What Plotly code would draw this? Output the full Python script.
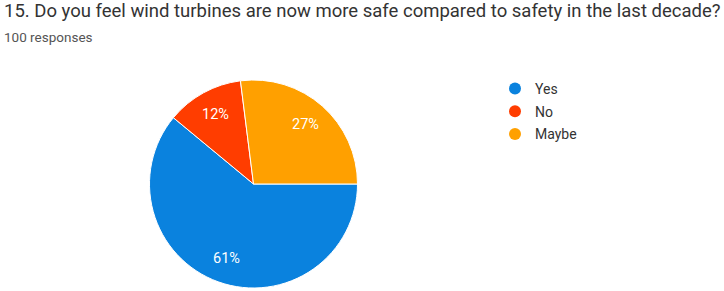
import math
import plotly.graph_objects as go

categories = ["Yes", "No", "Maybe"]
values = [61, 12, 27]
colors = ["#0a82de", "#ff3d00", "#ffa000"]
title_text = "15. Do you feel wind turbines are now more safe compared to safety in the last decade?"
subtitle_text = "100 responses"

W, H = 724, 291
# pie geometry (pixels)
cx, cy, R = 253.5, 184.0, 104.0
start_deg = 90.0
label_frac = 0.76

fig = go.Figure()
fig.add_trace(go.Pie(
    labels=categories, values=values, sort=False, direction="clockwise", rotation=start_deg,
    marker=dict(colors=colors, line=dict(color="white", width=1)),
    textinfo="none",
    showlegend=False, hoverinfo="label+percent",
    domain=dict(x=[(cx - R) / W, (cx + R) / W], y=[(H - cy - R) / H, (H - cy + R) / H]),
))
for c, col in zip(categories, colors):
    fig.add_trace(go.Scatter(
        x=[None], y=[None], mode="markers", name=c, legendgroup=c,
        marker=dict(symbol="circle", size=13, color=col),
        showlegend=True,
    ))

# percentage labels placed at slice mid-angles (computed from the data)
total = sum(values)
acc = 0.0
for v in values:
    mid = start_deg + (acc + v / 2) / total * 360.0
    acc += v
    a = math.radians(mid)
    px = cx + label_frac * R * math.sin(a)
    py = cy - label_frac * R * math.cos(a)
    fig.add_annotation(text=f"{round(v / total * 100)}%", x=px / W, y=(H - py) / H,
                       xref="paper", yref="paper", showarrow=False,
                       xanchor="center", yanchor="middle",
                       font=dict(family="Roboto", size=14.5, color="white"))

fig.add_annotation(text=title_text, x=2 / W, y=1 - 11 / H, xref="paper", yref="paper",
                   xanchor="left", yanchor="middle", showarrow=False,
                   font=dict(family="Roboto", size=18.5, color="#333333"))
fig.add_annotation(text=subtitle_text, x=2 / W, y=1 - 37 / H, xref="paper", yref="paper",
                   xanchor="left", yanchor="middle", showarrow=False,
                   font=dict(family="Roboto", size=13.5, color="#555555"))

fig.update_layout(
    width=W, height=H, margin=dict(l=0, r=0, t=0, b=0),
    paper_bgcolor="white", plot_bgcolor="white",
    xaxis=dict(visible=False), yaxis=dict(visible=False),
    legend=dict(x=495 / W, y=1 - 73 / H, xanchor="left", yanchor="top",
                font=dict(family="Roboto", size=14, color="#333333"),
                itemsizing="constant", tracegroupgap=1.5, bgcolor="rgba(0,0,0,0)"),
)
fig.write_html("out.html", config={"displayModeBar": False},
               post_script="document.body.style.margin='0';")
